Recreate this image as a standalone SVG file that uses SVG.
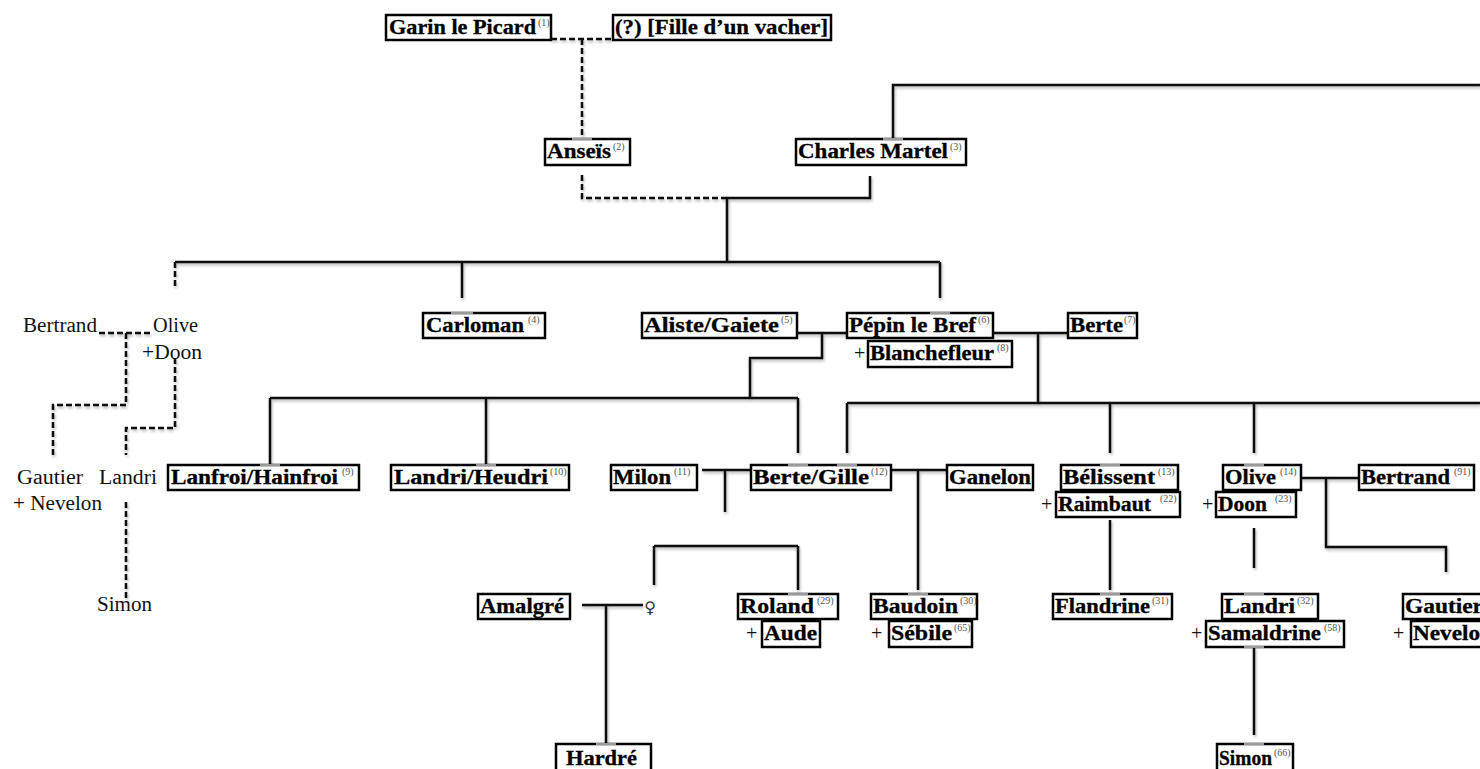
<svg xmlns="http://www.w3.org/2000/svg" width="1480" height="769" viewBox="0 0 1480 769">
<defs>
<style>
.b{fill:#fff;stroke:#000;stroke-width:2.5}
.t{font-family:"Liberation Serif",serif;font-weight:bold;font-size:21px;fill:#000;stroke:#000;stroke-width:0.3}
.s{font-family:"Liberation Serif",serif;font-size:10px;fill:#555}
.r{font-family:"Liberation Serif",serif;font-size:20px;fill:#111}
.sol{fill:none;stroke:#111;stroke-width:2.5}
.dsh{fill:none;stroke:#111;stroke-width:2.5;stroke-dasharray:6 3}
.tick{fill:none;stroke:#9a9a9a;stroke-width:2}
</style>
<filter id="sh" x="-5%" y="-5%" width="110%" height="110%">
<feGaussianBlur in="SourceAlpha" stdDeviation="1.8"/>
<feOffset dx="1" dy="2" result="o"/>
<feComponentTransfer><feFuncA type="linear" slope="0.3"/></feComponentTransfer>
<feMerge><feMergeNode/><feMergeNode in="SourceGraphic"/></feMerge>
</filter>
</defs>
<rect width="1480" height="769" fill="#fff"/>
<g id="connectors" filter="url(#sh)">
<path class="dsh" d="M551,39 H613 M582,39 V138 M582,175 V198 H727 M175,262 V287 M99,333 H152 M126,333 V405 H53 V455 M175,358 V428 H126 V455 M126,502 V598"/>
<path class="sol" d="M727,198 H870 V176 M893,139 V85 H1480 M727,198 V262 M175,262 H940 M462,262 V298 M940,262 V298 M797,333 H847 M822,333 V358 H750 V398 M993,333 H1068 M1038,333 V403 M270,398 H798 M270,398 V465 M486,398 V465 M798,398 V453 M847,403 H1480 M847,403 V453 M1110,403 V453 M1254,403 V453 M702,470 H751 M725,470 V512 M891,470 H947 M918,470 V590 M654,546 H798 M654,546 V585 M798,546 V590 M582,605 H643 M606,605 V745 M1110,520 V590 M1301,478 H1359 M1326,478 V547 H1446 V572 M1254,528 V568 M1254,647 V735"/>
</g>
<g id="n1"><rect class="b" x="386" y="15" width="165" height="25"/><text class="t" x="389" y="34" textLength="147" lengthAdjust="spacingAndGlyphs">Garin le Picard</text><text class="s" x="538" y="26">(1)</text></g>
<g id="n_fille"><rect class="b" x="613" y="15" width="218" height="25"/><text class="t" x="615" y="34" textLength="213" lengthAdjust="spacingAndGlyphs">(?) [Fille d’un vacher]</text></g>
<g id="n2"><rect class="b" x="545" y="139" width="85" height="26"/><text class="t" x="547" y="158" textLength="64" lengthAdjust="spacingAndGlyphs">Anseïs</text><text class="s" x="613" y="150">(2)</text></g>
<g id="n3"><rect class="b" x="796" y="139" width="170" height="26"/><text class="t" x="798" y="158" textLength="150" lengthAdjust="spacingAndGlyphs">Charles Martel</text><text class="s" x="950" y="150">(3)</text></g>
<g id="n4"><rect class="b" x="423" y="313" width="122" height="25"/><text class="t" x="426" y="332" textLength="98" lengthAdjust="spacingAndGlyphs">Carloman</text><text class="s" x="528" y="323">(4)</text></g>
<g id="n5"><rect class="b" x="642" y="313" width="155" height="25"/><text class="t" x="644" y="332" textLength="135" lengthAdjust="spacingAndGlyphs">Aliste/Gaiete</text><text class="s" x="781" y="323">(5)</text></g>
<g id="n6"><rect class="b" x="847" y="313" width="146" height="25"/><text class="t" x="849" y="332" textLength="127" lengthAdjust="spacingAndGlyphs">Pépin le Bref</text><text class="s" x="978" y="323">(6)</text></g>
<g id="n7"><rect class="b" x="1068" y="313" width="69" height="25"/><text class="t" x="1070" y="332" textLength="53" lengthAdjust="spacingAndGlyphs">Berte</text><text class="s" x="1124" y="323">(7)</text></g>
<g id="n8"><text class="r" x="854" y="360">+</text><rect class="b" x="868" y="341" width="144" height="26"/><text class="t" x="870" y="360" textLength="124" lengthAdjust="spacingAndGlyphs">Blanchefleur</text><text class="s" x="997" y="351">(8)</text></g>
<g id="n9"><rect class="b" x="168" y="465" width="191" height="25"/><text class="t" x="171" y="484" textLength="167" lengthAdjust="spacingAndGlyphs">Lanfroi/Hainfroi</text><text class="s" x="342" y="475">(9)</text></g>
<g id="n10"><rect class="b" x="391" y="465" width="178" height="25"/><text class="t" x="394" y="484" textLength="154" lengthAdjust="spacingAndGlyphs">Landri/Heudri</text><text class="s" x="550" y="475">(10)</text></g>
<g id="n11"><rect class="b" x="611" y="465" width="86" height="25"/><text class="t" x="613" y="484" textLength="58" lengthAdjust="spacingAndGlyphs">Milon</text><text class="s" x="674" y="475">(11)</text></g>
<g id="n12"><rect class="b" x="751" y="465" width="140" height="25"/><text class="t" x="753" y="484" textLength="116" lengthAdjust="spacingAndGlyphs">Berte/Gille</text><text class="s" x="871" y="475">(12)</text></g>
<g id="n_ganelon"><rect class="b" x="947" y="465" width="86" height="25"/><text class="t" x="949" y="484" textLength="82" lengthAdjust="spacingAndGlyphs">Ganelon</text></g>
<g id="n13"><rect class="b" x="1061" y="465" width="117" height="25"/><text class="t" x="1063" y="484" textLength="92" lengthAdjust="spacingAndGlyphs">Bélissent</text><text class="s" x="1158" y="475">(13)</text></g>
<g id="n14"><rect class="b" x="1223" y="465" width="78" height="25"/><text class="t" x="1225" y="484" textLength="51" lengthAdjust="spacingAndGlyphs">Olive</text><text class="s" x="1280" y="475">(14)</text></g>
<g id="n91"><rect class="b" x="1359" y="465" width="115" height="25"/><text class="t" x="1361" y="484" textLength="89" lengthAdjust="spacingAndGlyphs">Bertrand</text><text class="s" x="1454" y="475">(91)</text></g>
<g id="n22"><text class="r" x="1041" y="511">+</text><rect class="b" x="1056" y="492" width="124" height="25"/><text class="t" x="1058" y="511" textLength="93" lengthAdjust="spacingAndGlyphs">Raimbaut</text><text class="s" x="1160" y="502">(22)</text></g>
<g id="n23"><text class="r" x="1202" y="511">+</text><rect class="b" x="1216" y="492" width="80" height="25"/><text class="t" x="1218" y="511" textLength="49" lengthAdjust="spacingAndGlyphs">Doon</text><text class="s" x="1275" y="502">(23)</text></g>
<g id="n_amalgre"><rect class="b" x="478" y="594" width="92" height="25"/><text class="t" x="480" y="613" textLength="84" lengthAdjust="spacingAndGlyphs">Amalgré</text></g>
<g id="n_female"><text x="650" y="613" font-family="DejaVu Sans,sans-serif" font-size="16" fill="#333" text-anchor="middle">♀</text></g>
<g id="n29"><rect class="b" x="738" y="594" width="100" height="25"/><text class="t" x="740" y="613" textLength="74" lengthAdjust="spacingAndGlyphs">Roland</text><text class="s" x="817" y="604">(29)</text></g>
<g id="n_aude"><text class="r" x="746" y="640">+</text><rect class="b" x="762" y="621" width="58" height="26"/><text class="t" x="764" y="640" textLength="53" lengthAdjust="spacingAndGlyphs">Aude</text></g>
<g id="n30"><rect class="b" x="871" y="594" width="106" height="25"/><text class="t" x="873" y="613" textLength="85" lengthAdjust="spacingAndGlyphs">Baudoin</text><text class="s" x="960" y="604">(30)</text></g>
<g id="n65"><text class="r" x="871" y="640">+</text><rect class="b" x="889" y="621" width="83" height="26"/><text class="t" x="891" y="640" textLength="61" lengthAdjust="spacingAndGlyphs">Sébile</text><text class="s" x="954" y="631">(65)</text></g>
<g id="n31"><rect class="b" x="1053" y="594" width="119" height="25"/><text class="t" x="1055" y="613" textLength="95" lengthAdjust="spacingAndGlyphs">Flandrine</text><text class="s" x="1152" y="604">(31)</text></g>
<g id="n32"><rect class="b" x="1222" y="594" width="96" height="25"/><text class="t" x="1224" y="613" textLength="71" lengthAdjust="spacingAndGlyphs">Landri</text><text class="s" x="1297" y="604">(32)</text></g>
<g id="n58"><text class="r" x="1191" y="640">+</text><rect class="b" x="1206" y="621" width="138" height="26"/><text class="t" x="1208" y="640" textLength="113" lengthAdjust="spacingAndGlyphs">Samaldrine</text><text class="s" x="1324" y="631">(58)</text></g>
<g id="n_gautier"><rect class="b" x="1403" y="594" width="100" height="25"/><text class="t" x="1405" y="613" textLength="78" lengthAdjust="spacingAndGlyphs">Gautier</text></g>
<g id="n_nevelon"><text class="r" x="1393" y="640">+</text><rect class="b" x="1411" y="621" width="95" height="26"/><text class="t" x="1413" y="640" textLength="80" lengthAdjust="spacingAndGlyphs">Nevelon</text></g>
<g id="n_hardre"><rect class="b" x="556" y="744" width="95" height="30"/><text class="t" x="566" y="765" textLength="71" lengthAdjust="spacingAndGlyphs">Hardré</text></g>
<g id="n66"><rect class="b" x="1217" y="744" width="76" height="30"/><text class="t" x="1219" y="765" textLength="53" lengthAdjust="spacingAndGlyphs">Simon</text><text class="s" x="1274" y="756">(66)</text></g>
<g id="ticks">
<path class="tick" d="M572,139 H592 M883,139 H903 M451,313 H473 M930,313 H950 M260,465 H280 M476,465 H496 M788,465 H808 M837,465 H857 M1100,465 H1120 M1244,465 H1264 M788,594 H808 M908,594 H928 M1100,594 H1120 M1244,594 H1264 M596,744 H616 M1244,744 H1264 M1244,647 H1264"/>
</g>
<g id="left">
<text class="r" x="23" y="332" textLength="74" lengthAdjust="spacingAndGlyphs">Bertrand</text>
<text class="r" x="153" y="332" textLength="45" lengthAdjust="spacingAndGlyphs">Olive</text>
<text class="r" x="142" y="359" textLength="60" lengthAdjust="spacingAndGlyphs">+Doon</text>
<text class="r" x="17" y="484" textLength="66" lengthAdjust="spacingAndGlyphs">Gautier</text>
<text class="r" x="99" y="484" textLength="58" lengthAdjust="spacingAndGlyphs">Landri</text>
<text class="r" x="13" y="510" textLength="89" lengthAdjust="spacingAndGlyphs">+ Nevelon</text>
<text class="r" x="97" y="611" textLength="55" lengthAdjust="spacingAndGlyphs">Simon</text>
</g>
</svg>
